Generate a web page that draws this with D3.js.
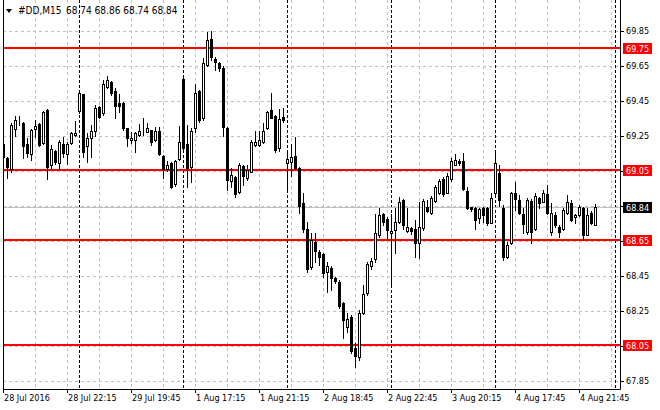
<!doctype html>
<html lang="en">
<head>
<meta charset="utf-8">
<script src="https://cdn.jsdelivr.net/npm/d3@7"></script>
<style>
  body { margin: 0; background: #fff; }
  svg { display: block; font-family: "DejaVu Sans Condensed", "Liberation Sans", Arial, sans-serif; }
</style>
</head>
<body>
<div id="chart"></div>
<script>
// #DD M15 bars, 28 Jul 2016 18:15 .. 4 Aug 2016 22:45
var open = [69.20,69.12,69.06,69.29,69.33,69.32,69.20,69.145,69.29,69.317,
  69.21,69.397,69.083,69.163,69.092,69.20,69.144,69.21,69.253,69.393,
  69.488,69.193,69.235,69.279,69.412,69.378,69.53,69.555,69.505,69.435,
  69.439,69.292,69.224,69.224,69.254,69.28,69.273,69.283,69.224,69.277,
  69.134,69.06,69.092,68.972,69.117,69.574,69.203,69.073,69.292,69.505,
  69.35,69.654,69.80,69.686,69.664,69.637,69.292,68.993,69.012,68.93,
  69.077,69.01,69.044,69.197,69.197,69.212,69.292,69.397,69.364,69.181,
  69.357,69.092,69.10,69.134,69.064,68.864,68.715,68.501,68.644,68.587,
  68.574,68.473,68.492,68.435,68.412,68.292,68.159,68.212,68.035,67.984,
  68.239,68.353,68.505,68.544,68.683,68.803,68.772,68.692,68.711,68.759,
  68.883,68.707,68.72,68.715,68.639,68.721,68.841,68.81,68.877,68.921,
  69.00,68.924,69.00,69.083,69.107,69.107,68.936,68.841,68.835,68.778,
  68.835,68.835,68.753,68.921,69.039,68.835,68.559,68.635,68.921,68.883,
  68.803,68.701,68.879,68.715,68.892,68.873,68.917,68.701,68.797,68.73,
  68.715,68.81,68.867,68.784,68.797,68.835,68.683,68.807,68.74];
var high = [69.22,69.13,69.32,69.36,69.36,69.33,69.235,69.29,69.34,69.32,
  69.39,69.40,69.197,69.168,69.225,69.245,69.216,69.27,69.334,69.507,
  69.49,69.264,69.31,69.425,69.42,69.568,69.593,69.56,69.524,69.486,
  69.445,69.295,69.27,69.27,69.315,69.353,69.32,69.285,69.30,69.30,
  69.14,69.105,69.10,69.11,69.305,69.597,69.31,69.292,69.544,69.51,
  69.692,69.844,69.85,69.70,69.67,69.65,69.30,69.064,69.02,69.092,
  69.08,69.083,69.225,69.277,69.277,69.324,69.39,69.492,69.37,69.403,
  69.407,69.15,69.20,69.244,69.07,68.92,68.759,68.692,68.696,68.597,
  68.58,68.53,68.505,68.445,68.425,68.301,68.235,68.225,68.064,68.254,
  68.397,68.53,68.55,68.80,68.835,68.81,68.787,68.80,68.835,68.90,
  68.89,68.835,68.73,68.768,68.873,68.886,68.883,68.905,68.968,69.00,
  69.012,69.035,69.12,69.145,69.115,69.15,68.959,68.845,68.84,68.835,
  68.844,68.84,68.92,69.159,69.083,68.854,68.64,68.93,68.987,68.911,
  68.835,68.892,68.89,68.92,68.90,68.94,68.968,68.867,68.816,68.74,
  68.835,68.911,68.88,68.80,68.854,68.84,68.835,68.82,68.86];
var low = [69.10,69.01,69.04,69.25,69.31,69.12,69.13,69.11,69.245,69.19,
  69.20,69.00,69.064,69.09,69.06,69.13,69.088,69.205,69.25,69.378,
  69.13,69.10,69.13,69.25,69.35,69.37,69.52,69.485,69.353,69.383,
  69.28,69.193,69.207,69.159,69.25,69.254,69.27,69.197,69.22,69.14,
  69.007,69.05,68.95,68.965,69.11,69.17,68.959,68.987,69.27,69.33,
  69.34,69.65,69.68,69.624,69.62,69.25,68.94,68.959,68.898,68.92,
  68.968,68.997,69.04,69.19,69.19,69.21,69.29,69.35,69.159,69.163,
  69.33,68.934,69.021,69.06,68.81,68.70,68.47,68.49,68.53,68.511,
  68.44,68.358,68.368,68.41,68.264,68.092,68.13,68.01,67.93,67.968,
  68.23,68.34,68.49,68.53,68.673,68.74,68.664,68.40,68.581,68.75,
  68.715,68.70,68.69,68.559,68.549,68.71,68.815,68.80,68.87,68.915,
  68.905,68.92,68.99,69.08,69.085,68.94,68.83,68.82,68.715,68.753,
  68.759,68.74,68.75,68.915,68.85,68.54,68.55,68.63,68.825,68.80,
  68.692,68.69,68.639,68.71,68.835,68.87,68.80,68.68,68.73,68.673,
  68.71,68.80,68.76,68.75,68.79,68.654,68.68,68.745,68.74];
var close = [69.13,69.07,69.31,69.34,69.33,69.19,69.15,69.28,69.305,69.197,
  69.384,69.073,69.172,69.10,69.216,69.153,69.203,69.264,69.267,69.492,
  69.159,69.239,69.277,69.407,69.359,69.545,69.568,69.492,69.42,69.42,
  69.292,69.235,69.235,69.264,69.277,69.28,69.292,69.212,69.277,69.144,
  69.06,69.083,68.959,69.105,69.212,69.181,69.064,69.277,69.492,69.34,
  69.664,69.797,69.698,69.673,69.635,69.30,68.997,69.025,68.917,69.083,
  69.021,69.054,69.212,69.212,69.225,69.277,69.384,69.353,69.168,69.345,
  69.341,69.117,69.13,69.064,68.85,68.717,68.486,68.654,68.591,68.559,
  68.464,68.505,68.435,68.421,68.277,68.197,68.201,68.021,67.991,68.235,
  68.345,68.517,68.536,68.692,68.797,68.759,68.711,68.705,68.755,68.873,
  68.74,68.727,68.704,68.635,68.73,68.879,68.82,68.892,68.959,68.993,
  68.917,69.02,69.107,69.111,69.092,68.944,68.835,68.833,68.768,68.829,
  68.797,68.749,68.892,69.092,68.88,68.555,68.625,68.921,68.887,68.81,
  68.745,68.883,68.701,68.905,68.863,68.921,68.81,68.81,68.74,68.701,
  68.825,68.873,68.768,68.797,68.844,68.683,68.797,68.753,68.84];

var priceTicks = [67.85,68.05,68.25,68.45,68.65,68.85,69.05,69.25,69.45,69.65,69.85];
var levels = [69.75, 69.05, 68.65, 68.05];
var timeIdx = [0,16,32,48,64,80,96,112,128,144];
var timeLabels = ["28 Jul 2016","28 Jul 22:15","29 Jul 19:45","1 Aug 17:15","1 Aug 21:15",
  "2 Aug 18:45","2 Aug 22:45","3 Aug 20:15","4 Aug 17:45","4 Aug 21:45"];
var daySep = [19,45,71,97,123,153];
var symbol = "#DD,M15";

var W = 660, H = 410;
var pLeft = 3, pRight = 620, pTop = 0, pBottom = 389;
var n = close.length;

var x = d3.scaleLinear().domain([0, n - 1]).range([3, 3 + 4 * (n - 1)]);
var y = d3.scaleLinear().domain([67.85, 69.85]).range([380.7, 30.7]);
var px = function(v) { return Math.round(v) + 0.5; };
var fmt = d3.format(".2f");

var svg = d3.select("#chart").append("svg")
  .attr("width", W).attr("height", H);

svg.append("clipPath").attr("id", "plot")
  .append("rect").attr("x", pLeft).attr("y", pTop)
  .attr("width", pRight - pLeft).attr("height", pBottom - pTop);

var plot = svg.append("g").attr("clip-path", "url(#plot)");

// grid
plot.append("g").selectAll("line")
  .data(priceTicks).join("line")
  .attr("x1", pLeft).attr("x2", pRight)
  .attr("y1", d => px(y(d))).attr("y2", d => px(y(d)))
  .attr("stroke", "#c0c0c0").attr("stroke-dasharray", "3,3");

plot.append("g").selectAll("line")
  .data(d3.range(0, 156, 8)).join("line")
  .attr("x1", d => px(x(d))).attr("x2", d => px(x(d)))
  .attr("y1", pTop).attr("y2", pBottom)
  .attr("stroke", "#c0c0c0").attr("stroke-dasharray", "3,3");

// period separators
plot.append("g").selectAll("line")
  .data(daySep).join("line")
  .attr("x1", d => px(x(d))).attr("x2", d => px(x(d)))
  .attr("y1", pTop).attr("y2", pBottom)
  .attr("stroke", "#000").attr("stroke-dasharray", "3,2");

// last price line
var last = close[n - 1];
plot.append("line")
  .attr("x1", pLeft).attr("x2", pRight)
  .attr("y1", px(y(last))).attr("y2", px(y(last)))
  .attr("stroke", "#c0c0c0");

// horizontal levels
plot.append("g").selectAll("line")
  .data(levels).join("line")
  .attr("x1", pLeft).attr("x2", pRight)
  .attr("y1", d => Math.floor(y(d))).attr("y2", d => Math.floor(y(d)))
  .attr("stroke", "#ff0000").attr("stroke-width", 2);

// candles
var bars = plot.append("g").selectAll("g")
  .data(d3.range(n)).join("g");

bars.append("line")
  .attr("x1", i => Math.round(x(i)) + 0.5).attr("x2", i => Math.round(x(i)) + 0.5)
  .attr("y1", i => Math.round(y(high[i]))).attr("y2", i => Math.round(y(low[i])) + 1)
  .attr("stroke", "#000");

bars.append("rect")
  .attr("x", i => Math.round(x(i)) - 0.5)
  .attr("width", 2)
  .attr("y", i => px(y(Math.max(open[i], close[i]))))
  .attr("height", i => Math.max(0, Math.round(y(Math.min(open[i], close[i]))) - Math.round(y(Math.max(open[i], close[i])))))
  .attr("fill", i => close[i] < open[i] ? "#000" : "#fff")
  .attr("stroke", "#000");

// frame
svg.append("path")
  .attr("d", "M" + (pLeft + 0.5) + "," + pTop + "V" + (pBottom + 0.5) + "H" + (pRight + 0.5) + "V" + pTop)
  .attr("fill", "none").attr("stroke", "#000");

// level tags and last price tag
var tags = levels.map(v => ({v: v, bg: "#ff0000"})).concat([{v: last, bg: "#000"}]);

// price axis (labels hidden under a tag are skipped)
var shown = priceTicks.filter(t => !tags.some(g => Math.abs(y(g.v) - y(t)) < 10));
var pAxis = svg.append("g");
pAxis.selectAll("line").data(priceTicks).join("line")
  .attr("x1", pRight).attr("x2", pRight + 4)
  .attr("y1", d => px(y(d))).attr("y2", d => px(y(d)))
  .attr("stroke", "#000");
pAxis.selectAll("text").data(shown).join("text")
  .attr("x", 626).attr("y", d => y(d) + 3.5)
  .attr("font-size", "9px").attr("fill", "#000")
  .text(d => fmt(d));

var tag = svg.append("g").selectAll("g").data(tags).join("g")
  .attr("transform", d => "translate(0," + Math.floor(y(d.v)) + ")");
tag.append("rect")
  .attr("x", 623).attr("y", -5).attr("width", 29).attr("height", 11)
  .attr("fill", d => d.bg);
tag.append("text")
  .attr("x", 626).attr("y", 4)
  .attr("font-size", "9px").attr("fill", "#fff")
  .text(d => fmt(d.v));

// time axis
var tAxis = svg.append("g");
tAxis.selectAll("line").data(timeIdx).join("line")
  .attr("x1", d => px(x(d))).attr("x2", d => px(x(d)))
  .attr("y1", pBottom).attr("y2", pBottom + 4)
  .attr("stroke", "#000");
tAxis.selectAll("text").data(timeIdx).join("text")
  .attr("x", d => x(d) + 1).attr("y", 401)
  .attr("font-size", "9px").attr("fill", "#000")
  .text((d, i) => timeLabels[i]);

// title
svg.append("path").attr("d", "M6,9L12,9L9,13Z").attr("fill", "#000");
var title = svg.append("text").attr("y", 14).attr("font-size", "10px").attr("fill", "#000");
title.append("tspan").attr("x", 18).text(symbol);
title.append("tspan").attr("x", 66)
  .text([open[n - 1], high[n - 1], low[n - 1], close[n - 1]].map(fmt).join(" "));
</script>
</body>
</html>
